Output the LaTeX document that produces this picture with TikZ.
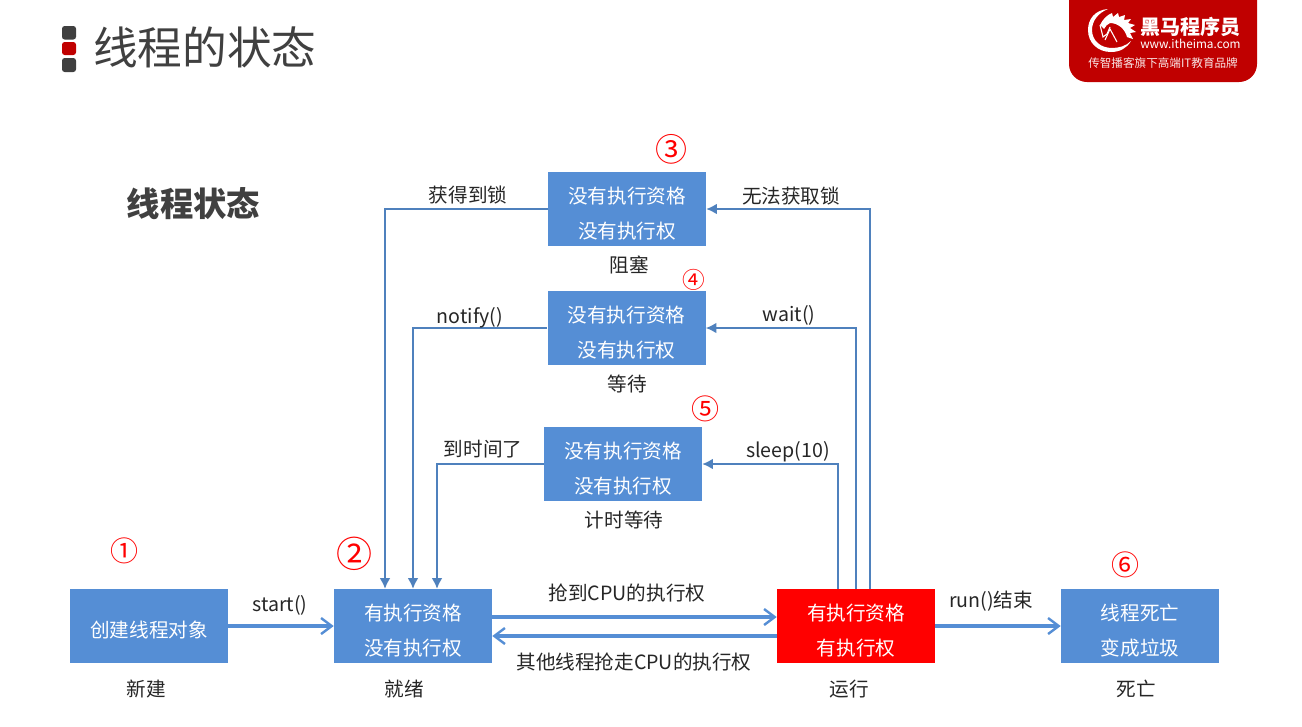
\documentclass[tikz,border=0pt]{standalone}
\usepackage{fontspec}
\setmainfont{Noto Sans CJK SC}
\usepackage{tikz}
\usetikzlibrary{arrows.meta}

\definecolor{boxblue}{HTML}{558ED5}
\definecolor{linkblue}{HTML}{4F81BD}
\definecolor{titlegray}{HTML}{404040}
\definecolor{logored}{HTML}{C00000}

\tikzset{
  statebox/.style={fill=boxblue,text=white,minimum width=118.5pt,minimum height=55.5pt,inner sep=0pt,align=center,text height=43.5pt,text depth=0pt,font=\fontsize{14.7}{26.25}\selectfont},
  runbox/.style={statebox,fill=red},
  caption/.style={text=black!85,inner sep=0pt,font=\fontsize{14.7}{18}\selectfont},
  mark num/.style={text=red,inner sep=0pt},
  thicklink/.style={draw=boxblue,line width=2.6pt,-{Straight Barb[length=8pt,width=12pt,line width=1.8pt]}},
  thinlink/.style={draw=linkblue,line width=1.1pt,-{Latex[length=8pt,width=8pt]}},
  bullet/.style={rounded corners=2pt,draw=none}
}

\begin{document}
\begin{tikzpicture}[x=0.75pt,y=-0.75pt]

\useasboundingbox [fill=white] (0,0) rectangle (1302,726) ;

% title
\fill [bullet,titlegray] (62,26) rectangle (76,39.5) ;
\fill [bullet,logored] (62,42) rectangle (76,55) ;
\fill [bullet,titlegray] (62,58) rectangle (76,72) ;
\node (title) [anchor=west,inner sep=0pt,text=titlegray,font=\fontsize{33.5}{36}\selectfont] at (93,47) {线程的状态} ;
\node (heading) [anchor=west,inner sep=0pt,text=titlegray,font=\fontsize{25}{28}\selectfont\bfseries] at (126.5,204) {线程状态} ;

% logo
\fill [logored] (1069,0) -- (1257,0) -- (1257,64) arc [start angle=0, end angle=90, radius=18] -- (1087,82) arc [start angle=90, end angle=180, radius=18] -- cycle ;
\fill [white] (1108,9) .. controls (1095,10) and (1088,19) .. (1088,30) .. controls (1088,43) and (1098,52) .. (1111,52) .. controls (1120,52) and (1127,48) .. (1131,41) .. controls (1126,46) and (1119,48) .. (1112,48) .. controls (1101,48) and (1092,41) .. (1092,30) .. controls (1092,21) and (1098,13) .. (1108,9) -- cycle ;
\fill [white] (1100,25) .. controls (1103,19) and (1107,15) .. (1112,13) -- (1113,17) -- (1118,13) -- (1119,17) -- (1125,15) -- (1124,20) -- (1131,19) -- (1128,23) -- (1135,25) -- (1130,28) -- (1136,32) -- (1130,33) -- (1133,39) -- (1127,37) .. controls (1125,29) and (1118,23) .. (1110,23) .. controls (1107,24) and (1106,26) .. (1104,29) -- cycle ;
\draw [white,line width=0.8pt] (1100,25) -- (1103,37) -- (1107,34) -- (1110,27) ;
\draw [white,line width=0.8pt] (1105,40) -- (1110,29) -- (1117,42) ;
\node (brand) [anchor=west,inner sep=0pt,text=white,font=\fontsize{15}{17}\selectfont\bfseries] at (1140,27) {黑马程序员} ;
\node (site) [anchor=west,inner sep=0pt,text=white,font=\fontsize{8.85}{11}\selectfont] at (1140,44) {www.itheima.com} ;
\node (slogan) [anchor=west,inner sep=0pt,text=white!90!logored,font=\fontsize{8.7}{10}\selectfont] at (1088,63.5) {传智播客旗下高端IT教育品牌} ;

% state boxes
\node (created) [statebox,text height=16.5pt] at (149,626) {创建线程对象} ;
\node (ready) [statebox] at (413,626) {有执行资格\\没有执行权} ;
\node (running) [runbox] at (856,626) {有执行资格\\有执行权} ;
\node (dead) [statebox] at (1140,626) {线程死亡\\变成垃圾} ;
\node (blocked) [statebox] at (627,209) {没有执行资格\\没有执行权} ;
\node (waiting) [statebox] at (626.5,328) {没有执行资格\\没有执行权} ;
\node (timed) [statebox] at (623,464) {没有执行资格\\没有执行权} ;

% captions under the boxes
\node (capnew) [caption] at (146,689) {新建} ;
\node (capready) [caption] at (404,689) {就绪} ;
\node (caprun) [caption] at (849,689) {运行} ;
\node (capdead) [caption] at (1136,689) {死亡} ;
\node (capblocked) [caption] at (629,265) {阻塞} ;
\node (capwaiting) [caption] at (627,384) {等待} ;
\node (captimed) [caption] at (624,520) {计时等待} ;

% numbers
\node (numone) [mark num,font=\fontsize{21}{24}\selectfont] at (124,551) {①} ;
\node (numtwo) [mark num,font=\fontsize{27}{30}\selectfont] at (354,554) {②} ;
\node (numthree) [mark num,font=\fontsize{24}{27}\selectfont] at (671,149) {③} ;
\node (numfour) [mark num,font=\fontsize{17}{20}\selectfont] at (694,280) {④} ;
\node (numfive) [mark num,font=\fontsize{21}{24}\selectfont] at (705,409) {⑤} ;
\node (numsix) [mark num,font=\fontsize{21}{24}\selectfont] at (1125,565) {⑥} ;

% links along the bottom
\draw [thicklink] (created.east) -- (ready.west) ;
\draw [thicklink] ([yshift=6.75pt]ready.east) -- ([yshift=6.75pt]running.west) ;
\draw [thicklink] ([yshift=-7.5pt]running.west) -- ([yshift=-7.5pt]ready.east) ;
\draw [thicklink] (running.east) -- (dead.west) ;

% links up to the three states
\draw [thinlink] ([xshift=10.5pt]running.north) |- (blocked.east) ;
\draw [thinlink] (running.north) |- (waiting.east) ;
\draw [thinlink] ([xshift=-13.5pt]running.north) |- (timed.east) ;

% links back to ready
\draw [thinlink] (blocked.west) -| ([xshift=-21pt]ready.north) ;
\draw [thinlink] (waiting.west) -| (ready.north) ;
\draw [thinlink] (timed.west) -| ([xshift=18pt]ready.north) ;

% link labels
\node (labstart) [caption] at (280,605) {start()} ;
\node (labgrab) [caption] at (627,593) {抢到CPU的执行权} ;
\node (lablost) [caption] at (634,662) {其他线程抢走CPU的执行权} ;
\node (labrun) [caption] at (991,601.5) {run()结束} ;
\node (labgot) [caption] at (468,195.5) {获得到锁} ;
\node (labnolock) [caption] at (791,196.5) {无法获取锁} ;
\node (labnotify) [caption] at (470,318) {notify()} ;
\node (labwait) [caption] at (789,315) {wait()} ;
\node (labtime) [caption] at (483,449.5) {到时间了} ;
\node (labsleep) [caption] at (788,452) {sleep(10)} ;

\end{tikzpicture}
\end{document}
